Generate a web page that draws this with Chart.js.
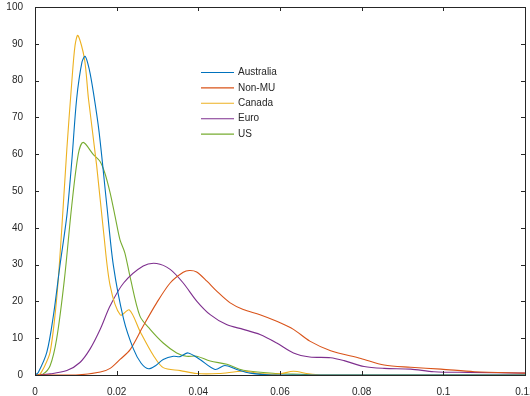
<!DOCTYPE html>
<html>
<head>
<meta charset="utf-8">
<script src="https://cdn.jsdelivr.net/npm/chart.js@4.4.0/dist/chart.umd.min.js"></script>
<style>
  body { margin: 0; background: #fff; }
  #wrap { width: 530px; height: 396px; }
</style>
</head>
<body>
<div id="wrap"><canvas id="chart" width="530" height="396"></canvas></div>
<script>
// values (x = return, y = density)
var seriesNames = ['Australia', 'Non-MU', 'Canada', 'Euro', 'US'];
var seriesColors = ['#0072BD', '#D95319', '#EDB120', '#7E2F8E', '#77AC30'];

var australiaX = [0, 0.0008, 0.0029, 0.0045, 0.0061, 0.0078, 0.0090, 0.0102, 0.0115, 0.0123, 0.0133, 0.0143, 0.0157, 0.0176, 0.0192, 0.0217, 0.0241, 0.0260, 0.0278, 0.0296, 0.0314, 0.0339, 0.0355, 0.0375, 0.0404, 0.0441, 0.0465, 0.0494, 0.0527, 0.058, 0.12];
var australiaY = [0, 0.7, 6.2, 16.1, 29.7, 43.3, 58, 75, 85, 86.6, 83, 76.8, 66, 46, 29.7, 15.2, 7.1, 3.2, 1.7, 2.6, 4.2, 5.1, 5.0, 6, 4.2, 1.5, 2.6, 1.5, 0.5, 0, 0];

var nonMuX = [0, 0.01, 0.016, 0.0184, 0.0209, 0.0233, 0.0265, 0.0298, 0.0331, 0.0363, 0.0378, 0.0396, 0.0421, 0.0445, 0.0478, 0.051, 0.0551, 0.0592, 0.0633, 0.0673, 0.0724, 0.0798, 0.0855, 0.092, 0.0994, 0.1076, 0.12];
var nonMuY = [0, 0, 0.8, 1.8, 4.3, 6.9, 13.3, 19.6, 25, 27.9, 28.4, 28, 25.5, 22.8, 19.6, 17.8, 16.4, 14.6, 12.4, 9.2, 6.6, 4.5, 2.7, 2.1, 1.6, 0.9, 0.5];

var canadaX = [0, 0.001, 0.002, 0.0037, 0.0053, 0.0065, 0.0078, 0.009, 0.0098, 0.0105, 0.0121, 0.0131, 0.0151, 0.0168, 0.0184, 0.0209, 0.0231, 0.0258, 0.029, 0.0314, 0.0356, 0.0396, 0.045, 0.051, 0.056, 0.06, 0.0633, 0.067, 0.07, 0.12];
var canadaY = [0, 0, 1.6, 6.2, 20.7, 38.8, 61.4, 79.5, 89.5, 92.3, 86, 75, 56.9, 38.8, 24.3, 16.3, 17.7, 11.7, 5.3, 2, 1.2, 0.4, 0.4, 1.0, 0.3, 0.3, 1.0, 0.3, 0, 0];

var euroX = [0, 0.0037, 0.0078, 0.011, 0.0135, 0.016, 0.0184, 0.0217, 0.0265, 0.0298, 0.0331, 0.0363, 0.0396, 0.0429, 0.0469, 0.051, 0.0551, 0.0592, 0.0633, 0.0673, 0.0724, 0.0757, 0.0806, 0.0855, 0.092, 0.0977, 0.106, 0.12];
var euroY = [0, 0.3, 1.2, 3.4, 7.1, 12.5, 18.8, 25, 29.6, 30.3, 28.7, 25, 20.1, 16.4, 13.7, 12.4, 11, 8.7, 6, 4.9, 4.7, 3.9, 2.3, 1.8, 1.6, 0.9, 0.7, 0.5];

var usX = [0, 0.002, 0.0037, 0.0053, 0.0072, 0.009, 0.0106, 0.0118, 0.0143, 0.0159, 0.0171, 0.0184, 0.0196, 0.0208, 0.022, 0.0233, 0.0257, 0.0282, 0.0314, 0.0347, 0.0371, 0.0396, 0.0429, 0.047, 0.051, 0.0592, 0.065, 0.07, 0.12];
var usY = [0, 0.3, 2.5, 9.8, 26, 46, 60, 63.2, 59.9, 58.1, 54.9, 49.5, 43.2, 36.8, 33.2, 26.6, 16, 12.4, 8.7, 6, 5.1, 5.1, 3.8, 2.9, 1.3, 0.4, 0.2, 0, 0];

var xTicks = [0, 0.02, 0.04, 0.06, 0.08, 0.1, 0.12];
var yTicks = [0, 10, 20, 30, 40, 50, 60, 70, 80, 90, 100];

var allX = [australiaX, nonMuX, canadaX, euroX, usX];
var allY = [australiaY, nonMuY, canadaY, euroY, usY];

function toPoints(xs, ys) {
    var pts = [];
    for (var i = 0; i < xs.length; i++) {
        pts.push({ x: xs[i], y: ys[i] });
    }
    return pts;
}

var datasets = seriesNames.map(function(name, i) {
    return {
        label: name,
        data: toPoints(allX[i], allY[i]),
        borderColor: seriesColors[i],
        borderWidth: 1.1,
        showLine: true,
        pointRadius: 0,
        fill: false,
        tension: 0.3
    };
});

var axisColor = '#262626';

// box, inward ticks and the legend inside the plot
var matlabBox = {
    id: 'matlabBox',
    afterDraw: function(chart) {
        var ctx = chart.ctx;
        var a = chart.chartArea;
        var xs = chart.scales.x, ys = chart.scales.y;
        ctx.save();
        ctx.strokeStyle = axisColor;
        ctx.lineWidth = 1;
        ctx.strokeRect(Math.round(a.left) + 0.5, Math.round(a.top) + 0.5,
            Math.round(a.right - a.left), Math.round(a.bottom - a.top));
        ctx.beginPath();
        xTicks.forEach(function(t) {
            var px = Math.round(xs.getPixelForValue(t)) + 0.5;
            ctx.moveTo(px, a.bottom); ctx.lineTo(px, a.bottom - 4);
            ctx.moveTo(px, a.top); ctx.lineTo(px, a.top + 4);
        });
        yTicks.forEach(function(t) {
            var py = Math.round(ys.getPixelForValue(t)) + 0.5;
            ctx.moveTo(a.left, py); ctx.lineTo(a.left + 4, py);
            ctx.moveTo(a.right, py); ctx.lineTo(a.right - 4, py);
        });
        ctx.stroke();

        // legend
        ctx.font = '10px "Liberation Sans", Arial, sans-serif';
        ctx.textBaseline = 'middle';
        ctx.fillStyle = axisColor;
        chart.data.datasets.forEach(function(ds, i) {
            var y = 72.5 + i * 15.4;
            ctx.strokeStyle = ds.borderColor;
            ctx.lineWidth = 1.1;
            ctx.beginPath();
            ctx.moveTo(201, y); ctx.lineTo(234, y);
            ctx.stroke();
            ctx.fillText(ds.label, 238, y);
        });
        ctx.restore();
    }
};

var ctx = document.getElementById('chart').getContext('2d');
var myChart = new Chart(ctx, {
    type: 'scatter',
    data: { datasets: datasets },
    options: {
        responsive: false,
        animation: false,
        layout: { padding: { top: 7, right: 5, left: 0, bottom: 0 } },
        plugins: {
            legend: { display: false },
            tooltip: { enabled: false }
        },
        scales: {
            x: {
                type: 'linear',
                min: 0,
                max: 0.12,
                afterFit: function(scale) {
                    scale.height = 21;
                    scale.paddingLeft = 0;
                    scale.paddingRight = 0;
                },
                afterBuildTicks: function(scale) {
                    scale.ticks = xTicks.map(function(v) { return { value: v }; });
                },
                grid: { display: false },
                border: { display: false },
                ticks: {
                    color: axisColor,
                    padding: 3,
                    maxRotation: 0,
                    autoSkip: false,
                    font: { family: '"Liberation Sans", Arial, sans-serif', size: 10 },
                    callback: function(v) { return String(+v.toFixed(2)); }
                }
            },
            y: {
                type: 'linear',
                min: 0,
                max: 100,
                afterFit: function(scale) {
                    scale.width = 35;
                    scale.paddingTop = 0;
                    scale.paddingBottom = 0;
                },
                afterBuildTicks: function(scale) {
                    scale.ticks = yTicks.map(function(v) { return { value: v }; });
                },
                grid: { display: false },
                border: { display: false },
                ticks: {
                    color: axisColor,
                    padding: 4,
                    autoSkip: false,
                    font: { family: '"Liberation Sans", Arial, sans-serif', size: 10 }
                }
            }
        }
    },
    plugins: [matlabBox]
});
</script>
</body>
</html>
